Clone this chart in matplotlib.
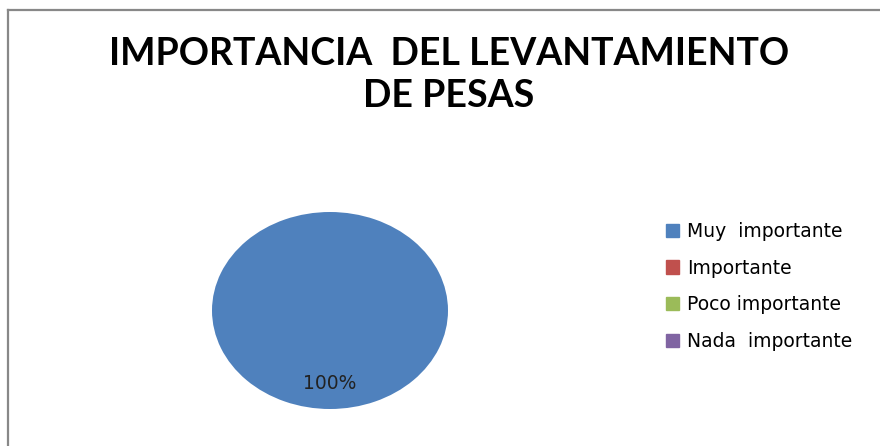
import matplotlib
matplotlib.use("Agg")
from matplotlib import pyplot as plt
from matplotlib.lines import Line2D

categories = ["Muy  importante", "Importante", "Poco importante", "Nada  importante"]
values = [100, 0, 0, 0]
colors = ["#4F81BD", "#C0504D", "#9BBB59", "#8064A2"]
title = "IMPORTANCIA  DEL LEVANTAMIENTO\nDE PESAS"

W, H = 880, 446
fig = plt.figure(figsize=(W / 100, H / 100), dpi=100)

# pie is drawn as a horizontally stretched ellipse
ax = fig.add_axes([212 / W, 1 - 409 / H, 236 / W, 197 / H])


def pct(p):
    return "%d%%" % round(p) if p > 0 else ""


wedges, texts, autotexts = ax.pie(values, colors=colors, startangle=90, counterclock=False,
                                  autopct=pct, pctdistance=0.74, radius=1,
                                  textprops=dict(fontsize=13.5, color="#222222", family="DejaVu Sans"))
ax.set_aspect("auto")
ax.set_xlim(-1, 1)
ax.set_ylim(-1, 1)
ax.axis("off")

fig.text(449 / W, 1 - 75 / H, title, ha="center", va="center", fontsize=27,
         fontweight="bold", family="Lato", linespacing=1.3)

handles = [plt.Rectangle((0, 0), 1, 1, color=c) for c in colors]
fig.legend(handles, categories, loc="center left", bbox_to_anchor=(649 / W, 1 - 286.5 / H),
           frameon=False, handlelength=0.7, handleheight=0.7, handletextpad=0.45,
           labelspacing=0.95, prop=dict(family="DejaVu Sans", size=13.5))

# chart frame (only top and left edges are visible)
fig.add_artist(Line2D([8 / W, 1], [1 - 9.5 / H, 1 - 9.5 / H], color="#888888", lw=1.6,
                      transform=fig.transFigure))
fig.add_artist(Line2D([8 / W, 8 / W], [1 - 9.5 / H, 0], color="#888888", lw=1.6,
                      transform=fig.transFigure))

fig.savefig("out.png", dpi=100)
